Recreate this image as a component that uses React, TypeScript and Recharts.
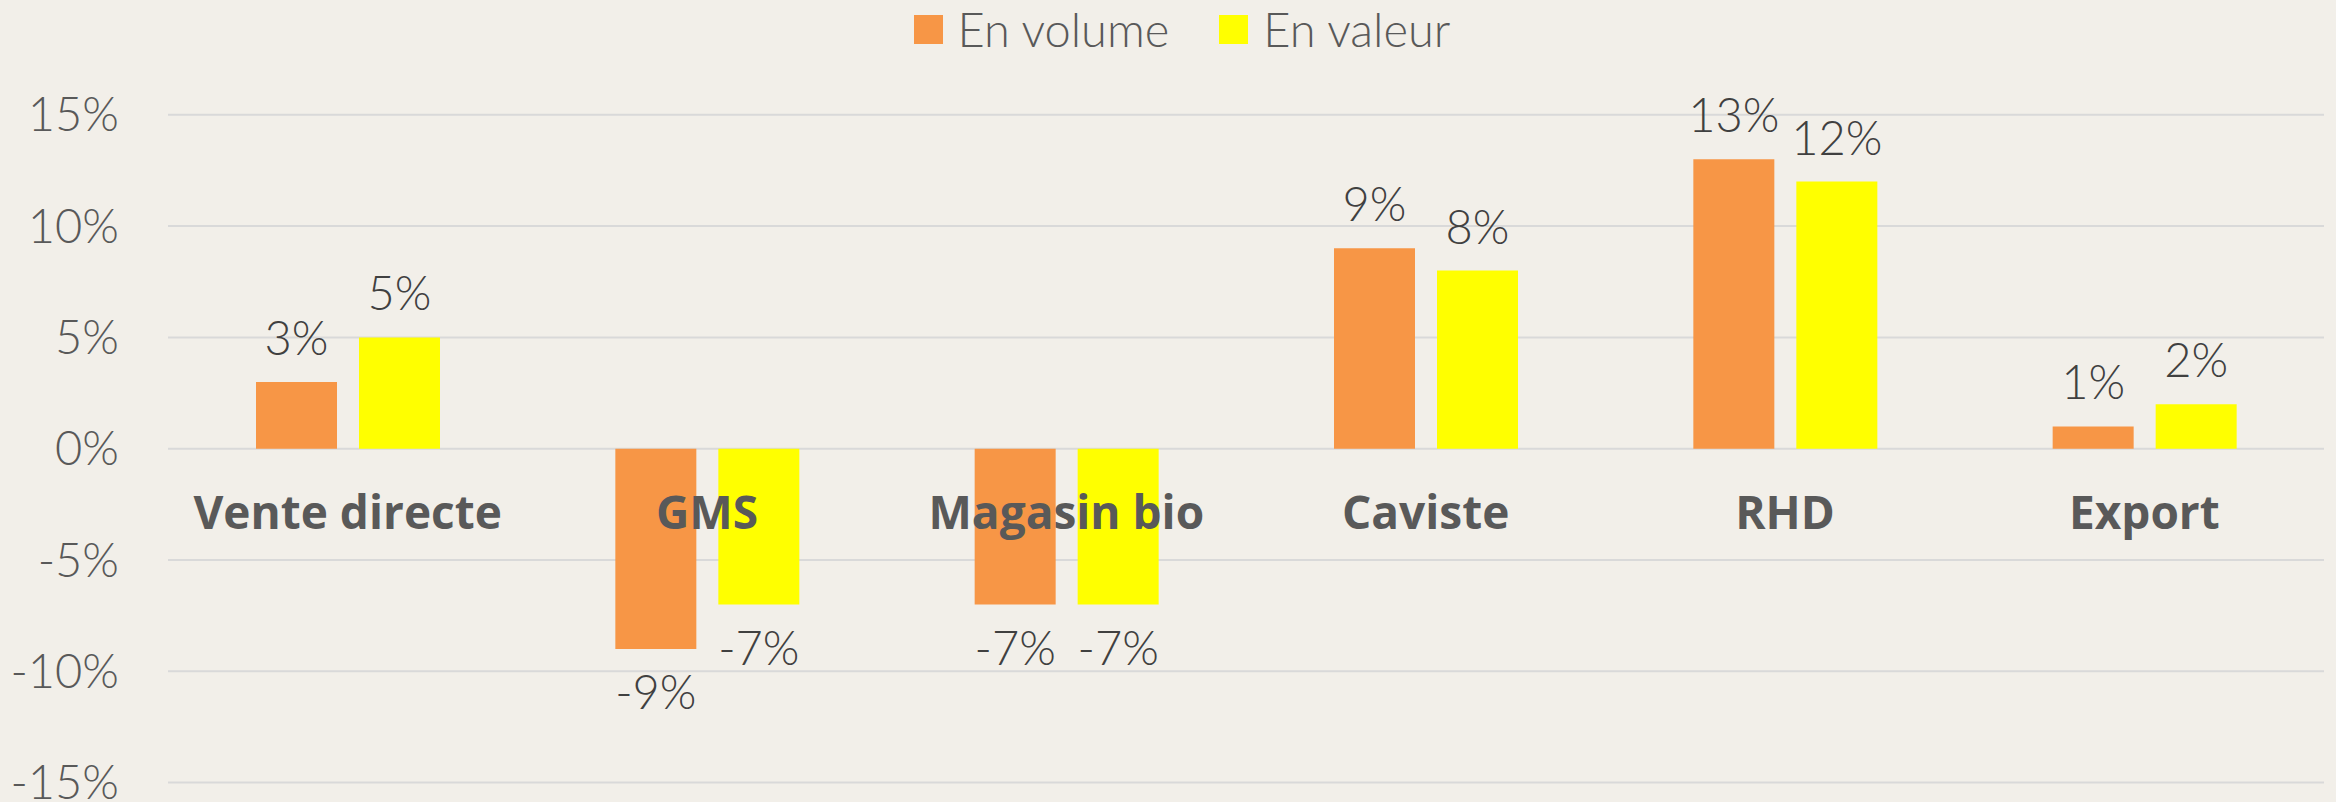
import React from 'react';
import { BarChart, Bar, XAxis, YAxis, CartesianGrid, Legend, LabelList } from 'recharts';

const categories = ['Vente directe', 'GMS', 'Magasin bio', 'Caviste', 'RHD', 'Export'];
const volumeValues = [3, -9, -7, 9, 13, 1];
const valeurValues = [5, -7, -7, 8, 12, 2];
const yTicks = [-15, -10, -5, 0, 5, 10, 15];
const seriesNames = ['En volume', 'En valeur'];
const seriesColors = ['#F79646', '#FFFF00'];

const data = categories.map((name, i) => ({
  name,
  volume: volumeValues[i],
  valeur: valeurValues[i],
}));

const FONT = 'Lato, "Open Sans", sans-serif';
const BOLD_FONT = '"Open Sans", Lato, sans-serif';
const BG = '#F2EFE9';
const TEXT = '#595959';
const LABEL = '#404040';

const pct = (v: any) => `${v}%`;

const CategoryTick = (props: any) => {
  const { x, y, payload } = props;
  return (
    <text
      x={x}
      y={y - 254}
      textAnchor="middle"
      fill={TEXT}
      fontFamily={BOLD_FONT}
      fontWeight={700}
      fontSize={46}
    >
      {payload.value}
    </text>
  );
};

const LegendContent = () => (
  <div
    style={{
      display: 'flex',
      justifyContent: 'center',
      alignItems: 'center',
      height: 58,
      paddingLeft: 28,
      fontFamily: FONT,
      fontSize: 47,
      color: TEXT,
      fontWeight: 300,
    }}
  >
    {seriesNames.map((n, i) => (
      <div
        key={n}
        style={{ display: 'flex', alignItems: 'center', marginLeft: i === 0 ? 0 : 50 }}
      >
        <div style={{ width: 29, height: 29, background: seriesColors[i], marginRight: 15 }} />
        <span style={{ lineHeight: '47px' }}>{n}</span>
      </div>
    ))}
  </div>
);

export default function App() {
  return (
    <div
      style={{
        position: 'absolute',
        left: 0,
        top: 0,
        width: 2336,
        height: 802,
        background: BG,
        overflow: 'hidden',
      }}
    >
      <BarChart
        width={2336}
        height={802}
        data={data}
        margin={{ top: 114.8, right: 12, bottom: 18.4, left: 0 }}
        barGap={22}
      >
        <CartesianGrid horizontal vertical={false} stroke="#D9D9D9" strokeWidth={2} />
        <Legend
          layout="horizontal"
          verticalAlign="middle"
          align="center"
          wrapperStyle={{ top: 0, left: 0, width: 2336, height: 58 }}
          content={<LegendContent />}
        />
        <XAxis
          dataKey="name"
          height={1}
          axisLine={false}
          tickLine={false}
          tickSize={0}
          tickMargin={0}
          tick={<CategoryTick />}
          interval={0}
        />
        <YAxis
          width={168}
          domain={[-15, 15]}
          ticks={yTicks}
          tickFormatter={pct}
          axisLine={false}
          tickLine={false}
          tickSize={0}
          tickMargin={49}
          tick={{ fill: TEXT, fontSize: 47, fontFamily: FONT, fontWeight: 300 }}
          interval={0}
        />
        <Bar dataKey="volume" name={seriesNames[0]} fill={seriesColors[0]} barSize={81} isAnimationActive={false}>
          <LabelList
            dataKey="volume"
            position="top"
            offset={27}
            formatter={pct}
            fill={LABEL}
            fontSize={47}
            fontFamily={FONT}
            fontWeight={300}
          />
        </Bar>
        <Bar dataKey="valeur" name={seriesNames[1]} fill={seriesColors[1]} barSize={81} isAnimationActive={false}>
          <LabelList
            dataKey="valeur"
            position="top"
            offset={27}
            formatter={pct}
            fill={LABEL}
            fontSize={47}
            fontFamily={FONT}
            fontWeight={300}
          />
        </Bar>
      </BarChart>
    </div>
  );
}
